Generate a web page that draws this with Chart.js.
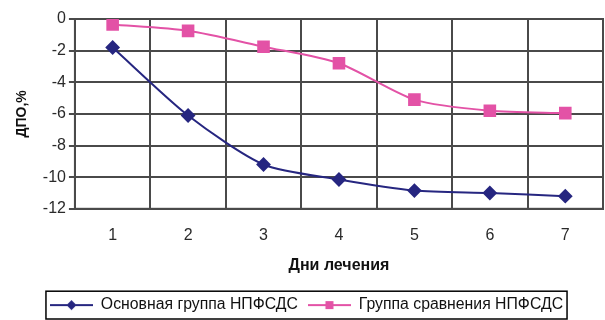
<!DOCTYPE html>
<html>
<head>
<meta charset="utf-8">
<script src="https://cdn.jsdelivr.net/npm/chart.js@4.4.1/dist/chart.umd.min.js"></script>
<style>
  html, body { margin: 0; padding: 0; background: #fff; overflow: hidden; }
  #wrap { width: 605px; height: 320px; }
</style>
</head>
<body>
<div id="wrap"><canvas id="grafico" width="605" height="320"></canvas></div>
<script>
const dias = ["1", "2", "3", "4", "5", "6", "7"];
const osnovnaya = [-1.8, -6.1, -9.2, -10.15, -10.85, -11.0, -11.2];
const sravneniya = [-0.35, -0.75, -1.75, -2.8, -5.1, -5.8, -5.95];
const yTicks = [0, -2, -4, -6, -8, -10, -12];

const AZUL = "#262680";
const ROSA = "#e352a6";
const GRIS = "#4a4a4a";

// icono de leyenda: linea con marcador en el centro
function iconoLeyenda(color, forma) {
    const c = document.createElement("canvas");
    c.width = 43;
    c.height = 12;
    const g = c.getContext("2d");
    g.strokeStyle = color;
    g.lineWidth = 2;
    g.beginPath();
    g.moveTo(0, 6);
    g.lineTo(43, 6);
    g.stroke();
    g.fillStyle = color;
    if (forma === "rombo") {
        g.beginPath();
        g.moveTo(21.5, 1);
        g.lineTo(26.5, 6);
        g.lineTo(21.5, 11);
        g.lineTo(16.5, 6);
        g.closePath();
        g.fill();
    } else {
        g.fillRect(17.5, 2, 8, 8);
    }
    return c;
}

const iconos = [iconoLeyenda(AZUL, "rombo"), iconoLeyenda(ROSA, "cuadro")];

// marco negro alrededor de la leyenda y del area del grafico
const marcos = {
    id: "marcos",
    beforeDatasetsDraw(chart) {
        const a = chart.chartArea;
        const ctx = chart.ctx;
        ctx.save();
        ctx.strokeStyle = GRIS;
        ctx.lineWidth = 2;
        ctx.strokeRect(a.left, a.top, a.right - a.left, a.bottom - a.top);
        ctx.restore();
    },
    afterDraw(chart) {
        const cajas = chart.legend.legendHitBoxes;
        if (!cajas || !cajas.length) return;
        const ctx = chart.ctx;
        let izq = Infinity, der = -Infinity, arr = Infinity, aba = -Infinity;
        cajas.forEach(b => {
            izq = Math.min(izq, b.left);
            der = Math.max(der, b.left + b.width);
            arr = Math.min(arr, b.top);
            aba = Math.max(aba, b.top + b.height);
        });
        ctx.save();
        ctx.strokeStyle = "#000";
        ctx.lineWidth = 1.5;
        ctx.strokeRect(izq - 4, arr - 6, der - izq + 8, aba - arr + 12);
        ctx.restore();
    }
};

const ctx = document.getElementById("grafico").getContext("2d");
const grafico = new Chart(ctx, {
    type: "line",
    data: {
        labels: dias,
        datasets: [{
            label: "Основная группа НПФСДС",
            data: osnovnaya,
            borderColor: AZUL,
            backgroundColor: AZUL,
            borderWidth: 2,
            pointStyle: "rectRot",
            pointRadius: 6,
            pointHoverRadius: 6,
            tension: 0.25,
            fill: false
        }, {
            label: "Группа сравнения НПФСДС",
            data: sravneniya,
            borderColor: ROSA,
            backgroundColor: ROSA,
            borderWidth: 2,
            pointStyle: "rect",
            pointRadius: 7.5,
            pointHoverRadius: 7.5,
            tension: 0.25,
            fill: false
        }]
    },
    options: {
        responsive: false,
        animation: false,
        layout: {
            autoPadding: false,
            padding: { top: 19, right: 2, left: 10, bottom: -3 }
        },
        scales: {
            x: {
                offset: true,
                afterFit(scale) {
                    scale.paddingRight = 0;
                },
                grid: {
                    offset: true,
                    color: GRIS,
                    lineWidth: 2,
                    drawTicks: false
                },
                border: { color: GRIS, width: 2 },
                ticks: {
                    color: "#2a2a2a",
                    font: { family: "Liberation Sans", size: 16 },
                    padding: 17
                },
                title: {
                    display: true,
                    text: "Дни лечения",
                    color: "#111",
                    font: { family: "Liberation Sans", size: 16, weight: "bold" },
                    padding: { top: -6, bottom: 12 }
                }
            },
            y: {
                min: -12,
                max: 0,
                afterBuildTicks(axis) {
                    axis.ticks = yTicks.map(v => ({ value: v }));
                },
                grid: {
                    color: GRIS,
                    lineWidth: 2,
                    tickLength: 6
                },
                border: { color: GRIS, width: 2 },
                ticks: {
                    color: "#2a2a2a",
                    font: { family: "Liberation Sans", size: 16 },
                    padding: 3
                },
                title: {
                    display: true,
                    text: "ДПО,%",
                    color: "#111",
                    font: { family: "Liberation Sans", size: 14, weight: "bold" },
                    padding: { bottom: 9 }
                }
            }
        },
        plugins: {
            tooltip: { enabled: false },
            legend: {
                position: "bottom",
                labels: {
                    color: "#111",
                    font: { family: "Liberation Sans", size: 15.8 },
                    usePointStyle: true,
                    pointStyleWidth: 43,
                    padding: 10,
                    generateLabels(chart) {
                        return chart.data.datasets.map((ds, i) => ({
                            text: ds.label,
                            pointStyle: iconos[i],
                            fillStyle: ds.borderColor,
                            strokeStyle: ds.borderColor,
                            lineWidth: 0,
                            fontColor: "#111",
                            datasetIndex: i,
                            hidden: false
                        }));
                    }
                }
            }
        }
    },
    plugins: [marcos]
});
</script>
</body>
</html>
